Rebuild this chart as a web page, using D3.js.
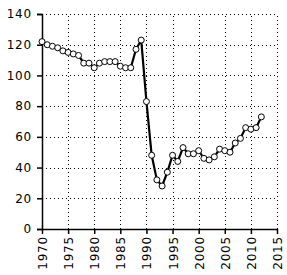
<!DOCTYPE html>
<html>
<head>
<meta charset="utf-8">
<script src="https://cdn.jsdelivr.net/npm/d3@7"></script>
<style>
  body { margin: 0; background: #fff; }
  svg text { font-family: "DejaVu Sans", sans-serif; font-size: 12px; letter-spacing: 0.8px; fill: #000; }
</style>
</head>
<body>
<script>
// values
const years = d3.range(1970, 2013);
const values = [
  122, 120, 119, 118, 116, 115, 114, 113, 108, 108,
  105, 108, 109, 109, 109, 106, 105, 105, 117, 123,
  83, 48, 32, 28, 37, 48, 44, 53, 49, 49,
  51, 46, 45, 47, 52, 51, 50, 56, 59, 66,
  65, 66, 73
];
const yTicks = [0, 20, 40, 60, 80, 100, 120, 140];
const xTicks = d3.range(1970, 2016, 5);

const width = 287, height = 275;
const margin = { top: 14, right: 10, bottom: 46, left: 42 };

const svg = d3.select('body').append('svg')
  .attr('width', width)
  .attr('height', height);

const x = d3.scaleLinear().domain([1970, 2015]).range([margin.left, width - margin.right]);
const y = d3.scaleLinear().domain([0, 140]).range([height - margin.bottom, margin.top]);

// dotted grid
svg.append('g').selectAll('line').data(yTicks.slice(1)).join('line')
  .attr('x1', x(1970)).attr('x2', x(2015))
  .attr('y1', d => Math.round(y(d)) + 0.5).attr('y2', d => Math.round(y(d)) + 0.5)
  .attr('stroke', '#000').attr('stroke-width', 1).attr('stroke-dasharray', '1,3');
svg.append('g').selectAll('line').data(xTicks.slice(1)).join('line')
  .attr('x1', d => Math.round(x(d)) + 0.5).attr('x2', d => Math.round(x(d)) + 0.5)
  .attr('y1', y(0)).attr('y2', y(140))
  .attr('stroke', '#000').attr('stroke-width', 1).attr('stroke-dasharray', '1,3');

// axes
const yAxis = svg.append('g')
  .attr('transform', `translate(${margin.left},0)`)
  .call(d3.axisLeft(y).tickValues(yTicks).tickSize(5).tickPadding(5));
const xAxis = svg.append('g')
  .attr('transform', `translate(0,${y(0)})`)
  .call(d3.axisBottom(x).tickValues(xTicks).tickFormat('').tickSize(5).tickSizeOuter(0));
[yAxis, xAxis].forEach(g => {
  g.select('.domain').attr('stroke', '#000').attr('stroke-width', 1.5);
  g.selectAll('.tick line').attr('stroke', '#000').attr('stroke-width', 1.5);
});
yAxis.attr('font-family', null).attr('font-size', null);

// year labels: the whole group is turned -90deg, so x' = -y and y' = x
svg.append('g')
  .attr('class', 'year-labels')
  .attr('transform', 'rotate(-90)')
  .selectAll('text').data(xTicks).join('text')
  .attr('x', -(y(0) + 7))
  .attr('y', d => x(d) + 5)
  .attr('text-anchor', 'end')
  .text(d => d);

// line
const line = d3.line().x((d, i) => x(years[i])).y(d => y(d));
svg.append('path').datum(values)
  .attr('d', line)
  .attr('fill', 'none')
  .attr('stroke', '#000')
  .attr('stroke-width', 2.2);

svg.append('g').selectAll('circle').data(values).join('circle')
  .attr('cx', (d, i) => x(years[i]))
  .attr('cy', d => y(d))
  .attr('r', 3)
  .attr('fill', '#fff')
  .attr('stroke', '#000')
  .attr('stroke-width', 1);
</script>
</body>
</html>
